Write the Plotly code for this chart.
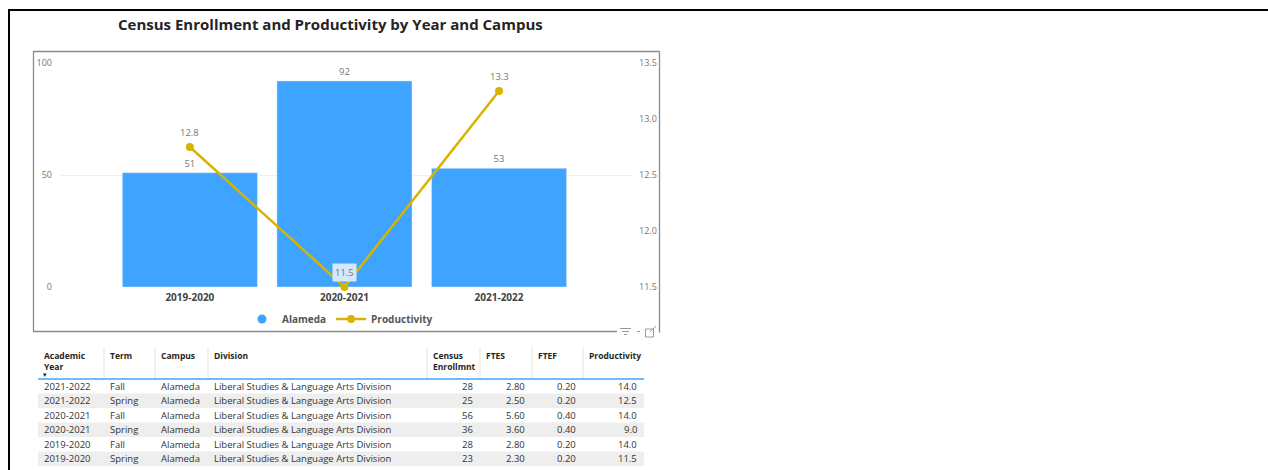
import plotly.graph_objects as go
from decimal import Decimal, ROUND_HALF_UP

# ---------------- data ----------------
years = ["2019-2020", "2020-2021", "2021-2022"]
enrollment = [51, 92, 53]
productivity = [12.75, 11.5, 13.25]

left_ticks = [0, 50, 100]
right_ticks = [11.5, 12.0, 12.5, 13.0, 13.5]

tbl_year = ["2021-2022", "2021-2022", "2020-2021", "2020-2021", "2019-2020", "2019-2020"]
tbl_term = ["Fall", "Spring", "Fall", "Spring", "Fall", "Spring"]
tbl_campus = ["Alameda"] * 6
tbl_division = ["Liberal Studies & Language Arts Division"] * 6
tbl_census = [28, 25, 56, 36, 28, 23]
tbl_ftes = [2.80, 2.50, 5.60, 3.60, 2.80, 2.30]
tbl_ftef = [0.20, 0.20, 0.40, 0.40, 0.20, 0.20]
tbl_prod = [14.0, 12.5, 14.0, 9.0, 14.0, 11.5]
tbl_headers = ["Academic<br>Year", "Term", "Campus", "Division", "Census<br>Enrollmnt",
               "FTES", "FTEF", "Productivity"]

# ---------------- style / layout ----------------
W, H = 1268, 470
FONT = "Open Sans"
BLUE = "#3FA4FF"
GOLD = "#D9B300"
col_edges = [38, 104, 155, 208, 427, 480, 532, 583, 644]   # table column boundaries (px)
col_align = ["left"] * 4 + ["right"] * 4
col_fmt = ["{}", "{}", "{}", "{}", "{:d}", "{:.2f}", "{:.2f}", "{:.1f}"]
header_top, header_line, row_h = 348, 379, 14.5


def X(px):
    return px / W


def Y(py):
    return 1 - py / H


def fmt1(v):
    return str(Decimal(str(v)).quantize(Decimal("0.1"), rounding=ROUND_HALF_UP))


fig = go.Figure()

# legend-only entry with circle symbol for the bar series
fig.add_trace(go.Scatter(x=[None], y=[None], mode="markers", name="Alameda",
                         marker=dict(symbol="circle", size=9, color=BLUE),
                         showlegend=True, hoverinfo="skip"))

fig.add_trace(go.Bar(x=years, y=enrollment, name="Alameda", marker_color=BLUE,
                     showlegend=False, texttemplate="%{y}", textposition="outside",
                     textfont=dict(family=FONT, size=9.5, color="#777777"),
                     cliponaxis=False))

fig.add_trace(go.Scatter(x=years, y=productivity, yaxis="y2", name="Productivity",
                         mode="lines+markers", line=dict(color=GOLD, width=2.5),
                         marker=dict(color=GOLD, size=8), cliponaxis=False))

annotations = []
# line data labels
for yr, p, e in zip(years, productivity, enrollment):
    on_bar = (p - right_ticks[0]) / (right_ticks[-1] - right_ticks[0]) * left_ticks[-1] < e
    annotations.append(dict(x=yr, y=p, xref="x", yref="y2", text=fmt1(p), showarrow=False,
                            yshift=15, font=dict(family=FONT, size=9.5, color="#777777"),
                            bgcolor="#D6E8FC" if on_bar else "rgba(0,0,0,0)",
                            borderpad=2))

# title
annotations.append(dict(x=X(330), y=Y(24), xref="paper", yref="paper",
                        text="Census Enrollment and Productivity by Year and Campus",
                        showarrow=False, xanchor="center", yanchor="middle",
                        font=dict(family=FONT, size=15, color="#252423", weight="bold")))

shapes = []

# ---------------- table (drawn from the table arrays) ----------------
columns = [tbl_year, tbl_term, tbl_campus, tbl_division, tbl_census, tbl_ftes, tbl_ftef, tbl_prod]
nrows = len(tbl_year)
for r in range(nrows):
    top = header_line + r * row_h
    if r % 2 == 1:
        shapes.append(dict(type="rect", xref="paper", yref="paper", layer="below",
                           x0=X(col_edges[0]), x1=X(col_edges[-1]),
                           y0=Y(top + row_h), y1=Y(top), fillcolor="#EEEEEE",
                           line=dict(width=0)))
for c, (col, al, fm) in enumerate(zip(columns, col_align, col_fmt)):
    xl, xr = col_edges[c], col_edges[c + 1]
    # header
    annotations.append(dict(x=X(xl + 4), y=Y(header_top), xref="paper", yref="paper",
                            text="<b>%s</b>" % tbl_headers[c], showarrow=False,
                            xanchor="left", yanchor="top", align="left",
                            font=dict(family=FONT, size=8.5, color="#252423")))
    for r, v in enumerate(col):
        cy = header_line + r * row_h + row_h / 2
        annotations.append(dict(x=X(xl + 4) if al == "left" else X(xr - 5), y=Y(cy),
                                xref="paper", yref="paper", text=fm.format(v),
                                showarrow=False, xanchor=al, yanchor="middle",
                                font=dict(family=FONT, size=9.5, color="#333333")))
# sort arrow in table header
annotations.append(dict(x=X(41), y=Y(374.5), xref="paper", yref="paper", text="▾",
                        showarrow=False, xanchor="left", yanchor="middle",
                        font=dict(family=FONT, size=6.5, color="#252423")))
for sx in col_edges[1:-1]:
    shapes.append(dict(type="line", xref="paper", yref="paper", x0=X(sx), x1=X(sx),
                       y0=Y(header_top - 1), y1=Y(header_line - 1),
                       line=dict(color="#E3E3E3", width=1)))
shapes.append(dict(type="line", xref="paper", yref="paper", x0=X(col_edges[0]),
                   x1=X(col_edges[-1]), y0=Y(header_line), y1=Y(header_line),
                   line=dict(color=BLUE, width=1.5)))

# ---------------- frame / decorations ----------------
shapes.append(dict(type="line", xref="paper", yref="paper", x0=X(8), x1=X(1268),
                   y0=Y(10), y1=Y(10), line=dict(color="black", width=2)))
shapes.append(dict(type="line", xref="paper", yref="paper", x0=X(9), x1=X(9),
                   y0=Y(9), y1=Y(470), line=dict(color="black", width=2)))
box = "#8A8A8A"
for x0, y0, x1, y1 in [(33, 51.5, 659.5, 51.5), (33.5, 51.5, 33.5, 331.5),
                       (659.5, 51.5, 659.5, 332.5), (33, 331.5, 617, 331.5)]:
    shapes.append(dict(type="line", xref="paper", yref="paper", x0=X(x0), x1=X(x1),
                       y0=Y(y0), y1=Y(y1), line=dict(color=box, width=1.3)))
ic = "#9A9A9A"
for x0, x1, yy in [(620, 631, 328.5), (622, 629, 331.5), (624, 627, 334.5), (637, 640, 331.5)]:
    shapes.append(dict(type="line", xref="paper", yref="paper", x0=X(x0), x1=X(x1),
                       y0=Y(yy), y1=Y(yy), line=dict(color=ic, width=1)))
shapes.append(dict(type="rect", xref="paper", yref="paper", x0=X(645.5), x1=X(653.5),
                   y0=Y(329), y1=Y(337), line=dict(color=ic, width=1)))
shapes.append(dict(type="line", xref="paper", yref="paper", x0=X(650), x1=X(656),
                   y0=Y(332), y1=Y(326), line=dict(color=ic, width=1)))

fig.update_layout(
    width=W, height=H, autosize=False, margin=dict(l=0, r=0, t=0, b=0, pad=0),
    paper_bgcolor="white", plot_bgcolor="white",
    font=dict(family=FONT),
    bargap=0.126,
    xaxis=dict(type="category", domain=[X(60), X(632)], range=[-0.84, 2.86],
               showgrid=False, zeroline=False, showline=False, ticks="",
               ticklabelstandoff=3, automargin=False,
               tickfont=dict(family=FONT, size=10, color="#444444", weight="bold")),
    yaxis=dict(domain=[Y(287), Y(63)], range=[left_ticks[0], left_ticks[-1]],
               tickvals=left_ticks, showgrid=True, gridcolor="#F0F0F0", gridwidth=1,
               zeroline=False, showline=False, ticks="", ticklabelstandoff=7,
               automargin=False,
               tickfont=dict(family=FONT, size=9, color="#777777")),
    yaxis2=dict(overlaying="y", side="right", anchor="x",
                range=[right_ticks[0], right_ticks[-1]], tickvals=right_ticks,
                tickformat=".1f", showgrid=False, zeroline=False, showline=False,
                ticks="", ticklabelstandoff=6, automargin=False,
                tickfont=dict(family=FONT, size=9, color="#777777")),
    legend=dict(orientation="h", x=X(340), y=Y(319), xanchor="center", yanchor="middle",
                font=dict(family=FONT, size=10, color="#555555", weight="bold"),
                bgcolor="rgba(0,0,0,0)", itemwidth=30, tracegroupgap=0),
    annotations=annotations,
    shapes=shapes,
)

fig.write_html("out.html", config={"displayModeBar": False},
               post_script="document.body.style.margin='0';document.body.style.overflow='hidden';")
